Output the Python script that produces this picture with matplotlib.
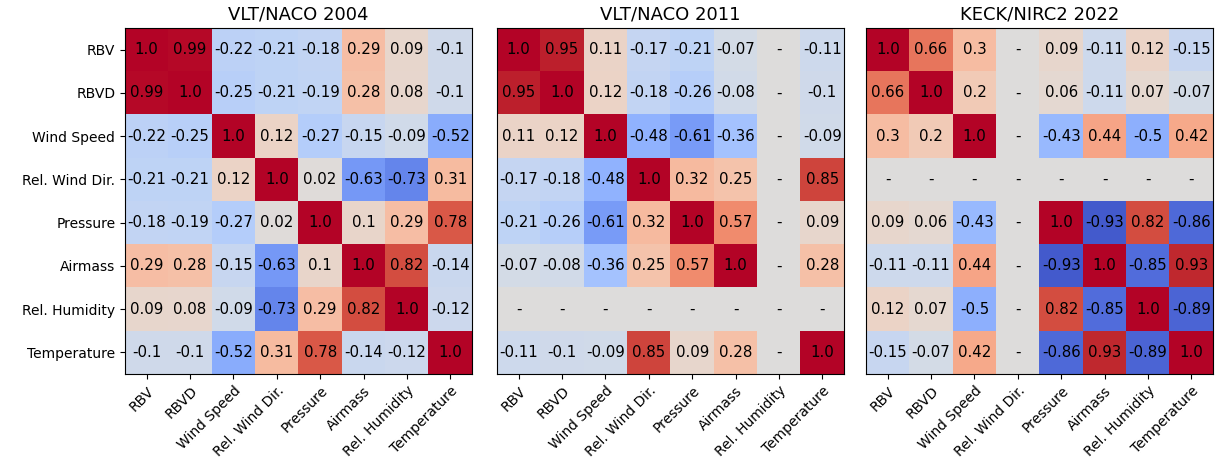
import numpy as np
import matplotlib
matplotlib.use("Agg")
import matplotlib.pyplot as plt

labels = ["RBV", "RBVD", "Wind Speed", "Rel. Wind Dir.", "Pressure",
          "Airmass", "Rel. Humidity", "Temperature"]
titles = ["VLT/NACO 2004", "VLT/NACO 2011", "KECK/NIRC2 2022"]
nan = np.nan

corr_2004 = [
    [1.0, 0.99, -0.22, -0.21, -0.18, 0.29, 0.09, -0.1],
    [0.99, 1.0, -0.25, -0.21, -0.19, 0.28, 0.08, -0.1],
    [-0.22, -0.25, 1.0, 0.12, -0.27, -0.15, -0.09, -0.52],
    [-0.21, -0.21, 0.12, 1.0, 0.02, -0.63, -0.73, 0.31],
    [-0.18, -0.19, -0.27, 0.02, 1.0, 0.1, 0.29, 0.78],
    [0.29, 0.28, -0.15, -0.63, 0.1, 1.0, 0.82, -0.14],
    [0.09, 0.08, -0.09, -0.73, 0.29, 0.82, 1.0, -0.12],
    [-0.1, -0.1, -0.52, 0.31, 0.78, -0.14, -0.12, 1.0],
]
corr_2011 = [
    [1.0, 0.95, 0.11, -0.17, -0.21, -0.07, nan, -0.11],
    [0.95, 1.0, 0.12, -0.18, -0.26, -0.08, nan, -0.1],
    [0.11, 0.12, 1.0, -0.48, -0.61, -0.36, nan, -0.09],
    [-0.17, -0.18, -0.48, 1.0, 0.32, 0.25, nan, 0.85],
    [-0.21, -0.26, -0.61, 0.32, 1.0, 0.57, nan, 0.09],
    [-0.07, -0.08, -0.36, 0.25, 0.57, 1.0, nan, 0.28],
    [nan, nan, nan, nan, nan, nan, nan, nan],
    [-0.11, -0.1, -0.09, 0.85, 0.09, 0.28, nan, 1.0],
]
corr_2022 = [
    [1.0, 0.66, 0.3, nan, 0.09, -0.11, 0.12, -0.15],
    [0.66, 1.0, 0.2, nan, 0.06, -0.11, 0.07, -0.07],
    [0.3, 0.2, 1.0, nan, -0.43, 0.44, -0.5, 0.42],
    [nan, nan, nan, nan, nan, nan, nan, nan],
    [0.09, 0.06, -0.43, nan, 1.0, -0.93, 0.82, -0.86],
    [-0.11, -0.11, 0.44, nan, -0.93, 1.0, -0.85, 0.93],
    [0.12, 0.07, -0.5, nan, 0.82, -0.85, 1.0, -0.89],
    [-0.15, -0.07, 0.42, nan, -0.86, 0.93, -0.89, 1.0],
]
matrices = [corr_2004, corr_2011, corr_2022]

fig = plt.figure(figsize=(12.24, 4.74), dpi=100)
cmap = plt.get_cmap("coolwarm").copy()
cmap.set_bad(cmap(0.5))

lefts = [125 / 1224, 497 / 1224, 866 / 1224]
W = 1224; H = 474
for i, (m, title, l) in enumerate(zip(matrices, titles, lefts)):
    ax = fig.add_axes([l, (H - 374) / H, 347 / W, 346 / H])
    arr = np.array(m, dtype=float)
    ax.imshow(np.ma.masked_invalid(arr), cmap=cmap, vmin=-1, vmax=1,
              aspect="auto", interpolation="nearest")
    n = len(labels)
    for r in range(n):
        for c in range(n):
            v = arr[r, c]
            txt = "-" if np.isnan(v) else str(round(v, 2))
            ax.text(c, r, txt, ha="center", va="center", color="black",
                    fontsize=10.8)
    ax.set_xticks(range(n))
    ax.set_xticklabels(labels, rotation=45, ha="right",
                       rotation_mode="anchor", fontsize=10)
    if i == 0:
        ax.set_yticks(range(n))
        ax.set_yticklabels(labels, fontsize=10)
    else:
        ax.set_yticks([])
    ax.set_title(title, fontsize=13)

fig.savefig("out.png", dpi=100)
